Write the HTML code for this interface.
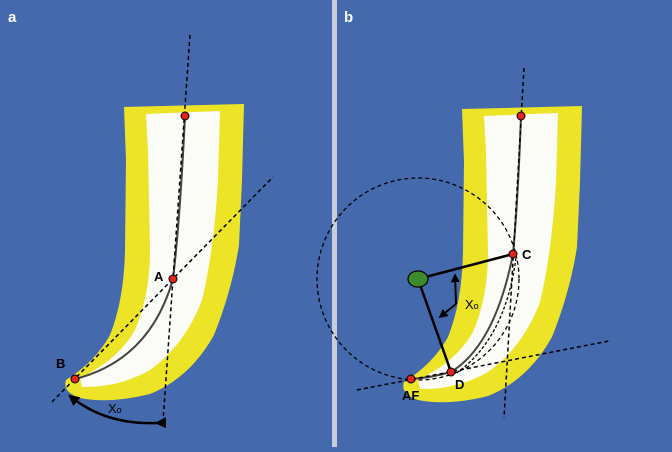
<!DOCTYPE html>
<html><head><style>body{margin:0;width:672px;height:447px;overflow:hidden;background:#4469ad}</style></head><body>
<svg width="672" height="447" viewBox="0 0 672 447" xmlns="http://www.w3.org/2000/svg" font-family="Liberation Sans, sans-serif">
<rect width="672" height="447" fill="#4469ad"/>
<rect x="332" y="0" width="5" height="447" fill="#c8cdd8"/>
<defs>
<g id="tooth">
<path d="M124,107 L244,104 L242,180 L239,245 Q232,290 214,335 Q190,378 150,394 Q110,404 80,398 Q62,392 66,380 Q95,362 110,335 Q124,300 125,250 L126,160 Z" fill="#ede427"/>
<path d="M146,114 L220,111 L218,180 Q214,250 202,300 Q185,345 150,370 Q118,388 82,387 L80,378 Q118,360 135,330 Q150,295 150,250 L148,150 Z" fill="#fbfbf8"/>
</g>
<marker id="ah" viewBox="0 0 10 10" refX="8" refY="5" markerWidth="4.5" markerHeight="4.5" orient="auto"><path d="M0,0 L10,5 L0,10 Z" fill="#000"/></marker>
</defs>
<use href="#tooth"/>
<use href="#tooth" transform="translate(338,2)"/>
<path d="M185,116 Q180,220 173,279 Q150,360 75,379" fill="none" stroke="#444" stroke-width="2"/>
<line x1="190" y1="35" x2="163" y2="422" stroke="#000" stroke-width="1.5" stroke-dasharray="4,3"/>
<line x1="52" y1="402" x2="273" y2="177" stroke="#000" stroke-width="1.5" stroke-dasharray="4,3"/>
<path d="M157,423 Q105,425 70,396" fill="none" stroke="#000" stroke-width="2.5" marker-end="url(#ah)" marker-start="url(#ah)"/>
<circle cx="185" cy="116" r="4" fill="#e0251e" stroke="#000"/>
<circle cx="173" cy="279" r="4" fill="#e0251e" stroke="#000"/>
<circle cx="75" cy="379" r="4" fill="#e0251e" stroke="#000"/>
<text x="8" y="22" fill="#fff" font-weight="bold" font-size="15">a</text>
<text x="154" y="281" font-weight="bold" font-size="13">A</text>
<text x="56" y="368" font-weight="bold" font-size="13">B</text>
<text x="108" y="413" font-size="13">X<tspan font-size="9">o</tspan></text>
<circle cx="418" cy="279" r="101" fill="none" stroke="#000" stroke-width="1.3" stroke-dasharray="4,3"/>
<path d="M521,116 Q518,200 513,254 Q495,345 451,372 Q430,378 411,379" fill="none" stroke="#444" stroke-width="2"/>
<path d="M516,258 Q505,340 455,374" fill="none" stroke="#000" stroke-width="1.3" stroke-dasharray="3,2"/>
<line x1="524" y1="68" x2="504" y2="418" stroke="#000" stroke-width="1.5" stroke-dasharray="4,3"/>
<line x1="357" y1="390" x2="609" y2="341" stroke="#000" stroke-width="1.5" stroke-dasharray="4,3"/>
<line x1="418" y1="279" x2="513" y2="254" stroke="#000" stroke-width="2.5"/>
<line x1="418" y1="279" x2="451" y2="372" stroke="#000" stroke-width="2.5"/>
<path d="M456,304 L455,275" stroke="#000" stroke-width="2" fill="none" marker-end="url(#ah)"/>
<path d="M456,304 L440,317" stroke="#000" stroke-width="2" fill="none" marker-end="url(#ah)"/>
<ellipse cx="418" cy="279" rx="10" ry="8" fill="#3f8a2c" stroke="#000" stroke-width="1.2"/>
<circle cx="521" cy="116" r="4" fill="#e0251e" stroke="#000"/>
<circle cx="513" cy="254" r="4" fill="#e0251e" stroke="#000"/>
<circle cx="451" cy="372" r="4" fill="#e0251e" stroke="#000"/>
<circle cx="411" cy="379" r="4" fill="#e0251e" stroke="#000"/>
<text x="344" y="22" fill="#fff" font-weight="bold" font-size="15">b</text>
<text x="522" y="259" font-weight="bold" font-size="13">C</text>
<text x="455" y="389" font-weight="bold" font-size="13">D</text>
<text x="402" y="400" font-weight="bold" font-size="13">AF</text>
<text x="465" y="309" font-size="13">X<tspan font-size="9">o</tspan></text>
</svg>
</body></html>
